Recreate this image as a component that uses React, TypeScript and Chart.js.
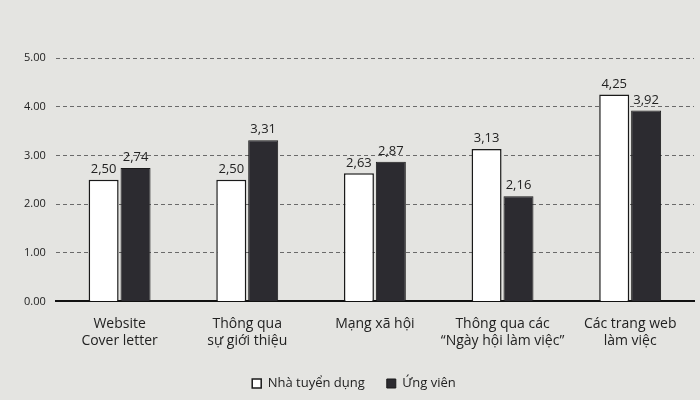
import { useEffect, useRef } from "react";
import { Chart, registerables } from "chart.js";

Chart.register(...registerables);

const categories = [
    ["Website", "Cover letter"],
    ["Thông qua", "sự giới thiệu"],
    ["Mạng xã hội"],
    ["Thông qua các", "\u201CNgày hội làm việc\u201D"],
    ["Các trang web", "làm việc"],
];
const employerValues = [2.5, 2.5, 2.63, 3.13, 4.25];
const candidateValues = [2.74, 3.31, 2.87, 2.16, 3.92];
const yTicks = [0, 1, 2, 3, 4, 5];

const FONT = "'Open Sans', 'Noto Sans', sans-serif";

const paperBackground = {
    id: "paperBackground",
    beforeDraw(chart: Chart) {
        const { ctx, width, height } = chart;
        ctx.save();
        ctx.fillStyle = "#e4e4e1";
        ctx.fillRect(0, 0, width, height);
        ctx.restore();
    },
};

const valueLabels = {
    id: "valueLabels",
    afterDatasetsDraw(chart: Chart) {
        const { ctx } = chart;
        ctx.save();
        ctx.fillStyle = "#222";
        ctx.font = `13px ${FONT}`;
        ctx.textAlign = "center";
        ctx.textBaseline = "bottom";
        chart.data.datasets.forEach((ds, i) => {
            const meta = chart.getDatasetMeta(i);
            meta.data.forEach((bar, j) => {
                const v = ds.data[j] as number;
                ctx.fillText(v.toFixed(2).replace(".", ","), bar.x, bar.y - 4);
            });
        });
        ctx.restore();
    },
};

const App = () => {
    const canvasRef = useRef<HTMLCanvasElement>(null);

    useEffect(() => {
        document.body.style.margin = "0";
        if (!canvasRef.current) return;
        const ctx = canvasRef.current.getContext("2d");
        if (!ctx) return;

        const chart = new Chart(ctx, {
            type: "bar",
            data: {
                labels: categories,
                datasets: [
                    {
                        label: "Nhà tuyển dụng",
                        data: employerValues,
                        backgroundColor: "#ffffff",
                        borderColor: "#1a1a1a",
                        borderWidth: 1.5,
                        barPercentage: 0.94,
                        categoryPercentage: 0.5,
                    },
                    {
                        label: "Ứng viên",
                        data: candidateValues,
                        backgroundColor: "#2c2b30",
                        borderColor: "#1a1a1a",
                        borderWidth: 1,
                        barPercentage: 0.94,
                        categoryPercentage: 0.5,
                    },
                ],
            },
            options: {
                responsive: false,
                animation: false,
                layout: { padding: { left: 14, right: 6, top: 58, bottom: 0 } },
                plugins: {
                    tooltip: { enabled: false },
                    legend: {
                        position: "bottom",
                        labels: {
                            color: "#222",
                            font: { family: FONT, size: 13 },
                            boxWidth: 9,
                            boxHeight: 9,
                            padding: 22,
                        },
                    },
                },
                scales: {
                    x: {
                        grid: { display: false },
                        border: { display: true, color: "#111", width: 2 },
                        ticks: {
                            color: "#222",
                            font: { family: FONT, size: 14 },
                            maxRotation: 0,
                            autoSkip: false,
                            padding: 6,
                        },
                    },
                    y: {
                        min: 0,
                        max: 5,
                        afterBuildTicks: (axis) => {
                            axis.ticks = yTicks.map((v) => ({ value: v }));
                        },
                        grid: {
                            color: "#6a6a6a",
                            lineWidth: 1,
                            drawTicks: false,
                        },
                        border: { display: false, dash: [4, 3] },
                        ticks: {
                            color: "#222",
                            padding: 10,
                            font: { family: FONT, size: 11 },
                            callback: (v) => Number(v).toFixed(2),
                        },
                    },
                },
            },
            plugins: [paperBackground, valueLabels],
        });
        return () => {
            chart.destroy();
        };
    }, []);

    return (
        <div style={{ width: 700, height: 400 }}>
            <canvas ref={canvasRef} width={700} height={400}></canvas>
        </div>
    );
};

export default App;
